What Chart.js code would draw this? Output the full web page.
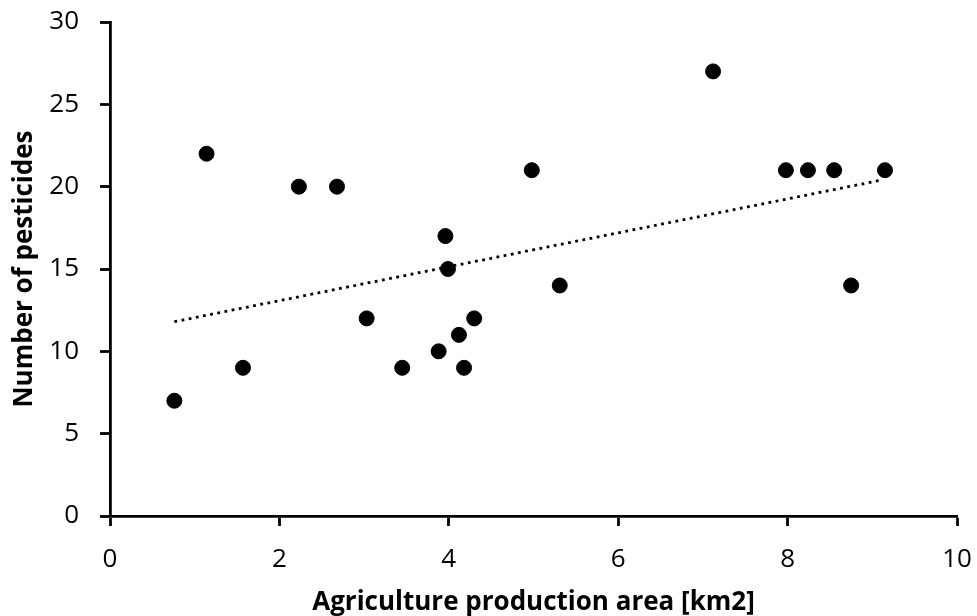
<!DOCTYPE html>
<html>
<head>
<meta charset="utf-8">
<script src="https://cdn.jsdelivr.net/npm/chart.js@4/dist/chart.umd.min.js"></script>
<style>
    html, body { margin: 0; padding: 0; background: #fff; }
    #wrap { width: 977px; height: 616px; }
</style>
</head>
<body>
<div id="wrap"><canvas id="pesticideChart" width="977" height="616"></canvas></div>
<script>
// agriculture production area [km2]
var areaValues = [0.76, 1.14, 1.57, 2.23, 2.68, 3.03, 3.45, 3.88, 3.96, 3.99, 4.12, 4.18, 4.30, 4.98, 5.31, 7.12, 7.98, 8.24, 8.55, 8.75, 9.15];
// number of pesticides
var pesticideCounts = [7, 22, 9, 20, 20, 12, 9, 10, 17, 15, 11, 9, 12, 21, 14, 27, 21, 21, 21, 14, 21];

// linear trend line, end points
var trendX = [0.76, 9.11];
var trendY = [11.8, 20.4];

var xTicks = [0, 2, 4, 6, 8, 10];
var yTicks = [0, 5, 10, 15, 20, 25, 30];

function makePoints(xs, ys) {
    var pts = [];
    for (var i = 0; i < xs.length; i++) {
        pts.push({ x: xs[i], y: ys[i] });
    }
    return pts;
}

function drawScatterChart(id) {
    var ctx = document.getElementById(id).getContext("2d");
    var fontFamily = "'Open Sans', 'Noto Sans', sans-serif";

    var chartData = {
        datasets: [
            {
                label: "Pesticides",
                data: makePoints(areaValues, pesticideCounts),
                backgroundColor: "#000",
                borderColor: "#000",
                pointRadius: 7.5,
                pointHoverRadius: 7.5,
                showLine: false,
                order: 1
            },
            {
                label: "Trend",
                type: "line",
                data: makePoints(trendX, trendY),
                borderColor: "#000",
                borderWidth: 2.8,
                borderDash: [2.8, 4.5],
                pointRadius: 0,
                fill: false,
                order: 2
            }
        ]
    };

    var chartOptions = {
        responsive: false,
        animation: false,
        layout: {
            padding: { top: 22, right: 20, left: 0, bottom: 0 }
        },
        plugins: {
            legend: { display: false },
            tooltip: { enabled: false }
        },
        scales: {
            x: {
                type: "linear",
                min: 0,
                max: 10,
                afterBuildTicks: function(scale) {
                    scale.ticks = xTicks.map(function(v) { return { value: v }; });
                },
                afterFit: function(scale) {
                    scale.height = 100;
                    scale.paddingLeft = 0;
                    scale.paddingRight = 0;
                },
                border: { color: "#000", width: 2.8 },
                grid: { drawOnChartArea: false, drawTicks: true, tickLength: 10, tickWidth: 2.8, tickColor: "#000" },
                ticks: { color: "#000", font: { family: fontFamily, size: 26 }, padding: 18, maxRotation: 0 },
                title: {
                    display: true,
                    text: "Agriculture production area [km2]",
                    color: "#000",
                    font: { family: fontFamily, size: 26, weight: "bold" },
                    padding: { top: 0, bottom: -2 }
                }
            },
            y: {
                type: "linear",
                min: 0,
                max: 30,
                afterBuildTicks: function(scale) {
                    scale.ticks = yTicks.map(function(v) { return { value: v }; });
                },
                afterFit: function(scale) {
                    scale.width = 110;
                    scale.paddingTop = 0;
                    scale.paddingBottom = 0;
                },
                border: { color: "#000", width: 2.8 },
                grid: { drawOnChartArea: false, drawTicks: true, tickLength: 10, tickWidth: 2.8, tickColor: "#000" },
                ticks: { color: "#000", font: { family: fontFamily, size: 26 }, padding: 21 },
                title: {
                    display: true,
                    text: "Number of pesticides",
                    color: "#000",
                    font: { family: fontFamily, size: 26, weight: "bold" },
                    padding: { top: 9, bottom: 0 }
                }
            }
        }
    };

    new Chart(ctx, { type: "scatter", data: chartData, options: chartOptions });
}

drawScatterChart("pesticideChart");
</script>
</body>
</html>
